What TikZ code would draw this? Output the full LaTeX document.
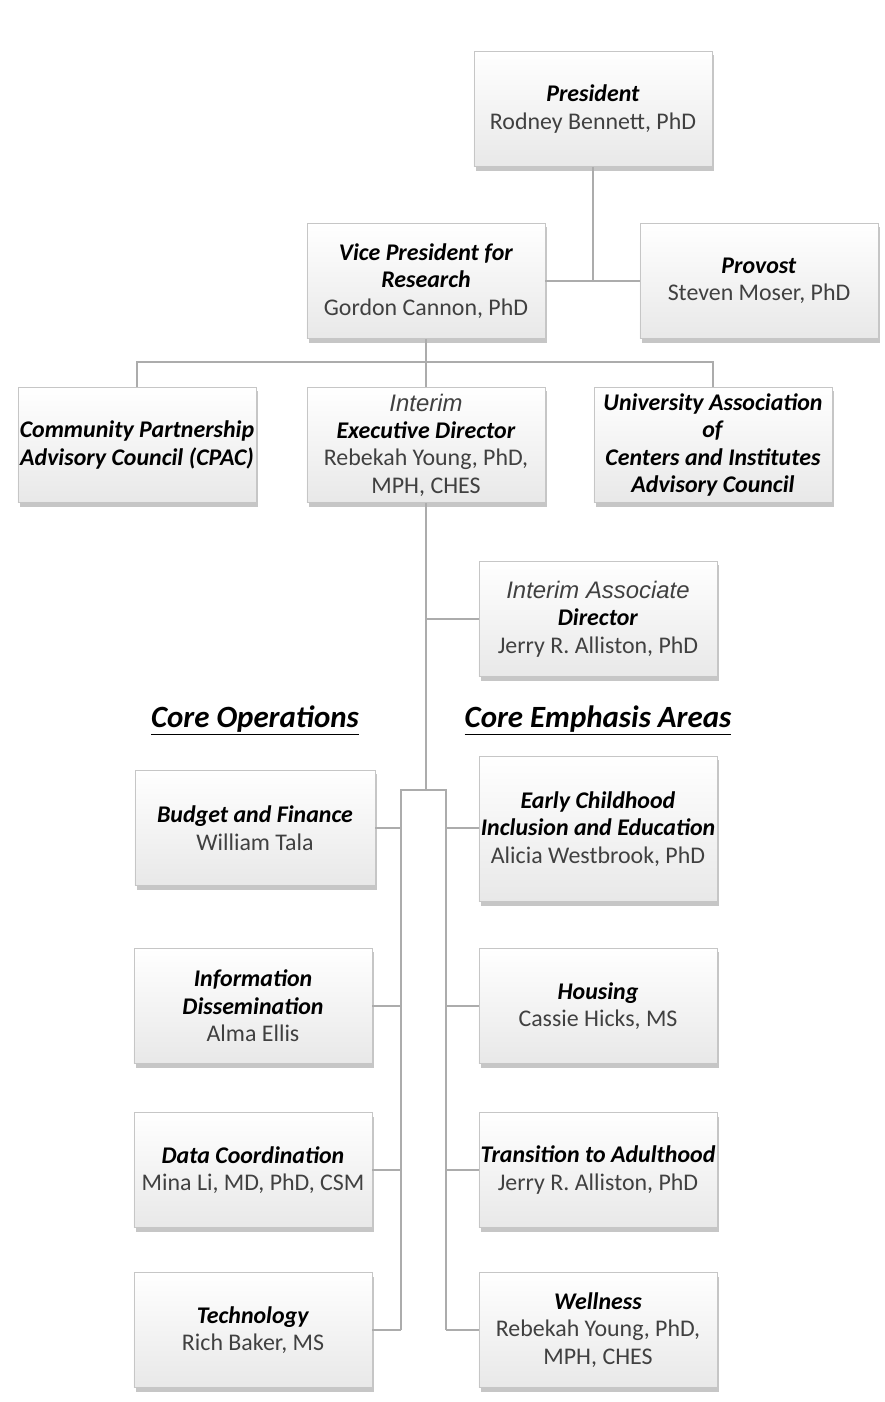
\documentclass[tikz,border=0pt]{standalone}
\usepackage{fontspec}
\setmainfont{Carlito}
\newfontfamily\arialfont{Liberation Sans}
\usetikzlibrary{shadows}

\newcommand{\post}[1]{\textbf{\textit{#1}}}
\newcommand{\interim}[1]{{\arialfont\itshape\color{black!75}#1}}
\newcommand{\who}[1]{{\color{black!75}#1}}

\tikzset{
  office/.style={draw=gray!45, thin, top color=white, bottom color=gray!18,
    drop shadow={opacity=0.45, shadow xshift=0.6mm, shadow yshift=-1mm},
    align=center, minimum width=5.95cm, minimum height=2.875cm,
    inner xsep=0pt, inner ysep=2pt,
    font=\fontsize{17}{19.5}\selectfont},
  link/.style={draw=gray!65, line width=1.2pt},
  heading/.style={font=\fontsize{22}{26}\selectfont\bfseries\itshape}
}

\begin{document}
\begin{tikzpicture}[x=0.025cm, y=-0.025cm]
        \useasboundingbox (0,0) rectangle (884,1402);

        % top of the chart
        \node[office] (pres) at (593,109) {\post{President}\\ \who{Rodney Bennett, PhD}};
        \node[office] (vp) at (426,281) {\post{Vice President for}\\ \post{Research}\\ \who{Gordon Cannon, PhD}};
        \node[office] (provost) at (759,281) {\post{Provost}\\ \who{Steven Moser, PhD}};

        \node[office] (cpac) at (137,445) {\post{Community Partnership}\\ \post{Advisory Council (CPAC)}};
        \node[office] (exec) at (426,445) {\interim{Interim}\\ \post{Executive Director}\\ \who{Rebekah Young, PhD,}\\ \who{MPH, CHES}};
        \node[office] (uaci) at (713,445) {\post{University Association}\\ \post{of}\\ \post{Centers and Institutes}\\ \post{Advisory Council}};

        \node[office] (assoc) at (598,619) {\interim{Interim Associate}\\ \post{Director}\\ \who{Jerry R. Alliston, PhD}};

        % headings
        \node[heading] (ops) at (255,720) {\underline{Core Operations}};
        \node[heading] (areas) at (598,720) {\underline{Core Emphasis Areas}};

        % core operations
        \node[office, minimum width=6cm] (budget) at (255,828) {\post{Budget and Finance}\\ \who{William Tala}};
        \node[office] (info) at (253,1006) {\post{Information}\\ \post{Dissemination}\\ \who{Alma Ellis}};
        \node[office] (data) at (253,1170) {\post{Data Coordination}\\ \who{Mina Li, MD, PhD, CSM}};
        \node[office] (tech) at (253,1330) {\post{Technology}\\ \who{Rich Baker, MS}};

        % core emphasis areas
        \node[office, minimum height=3.625cm] (early) at (598,829) {\post{Early Childhood}\\ \post{Inclusion and Education}\\ \who{Alicia Westbrook, PhD}};
        \node[office] (housing) at (598,1006) {\post{Housing}\\ \who{Cassie Hicks, MS}};
        \node[office] (trans) at (598,1170) {\post{Transition to Adulthood}\\ \who{Jerry R. Alliston, PhD}};
        \node[office] (well) at (598,1330) {\post{Wellness}\\ \who{Rebekah Young, PhD,}\\ \who{MPH, CHES}};

        % connectors
        \coordinate (split) at (426,362);
        \coordinate (fork) at (426,790);
        \coordinate (forkL) at (401,790);
        \coordinate (forkR) at (446,790);

        \draw[link] (pres.south) -- (pres.south |- vp.east);
        \draw[link] (vp.east) -- (provost.west);
        \draw[link] (vp.south) -- (split);
        \draw[link] (cpac.north) |- (split) -| (uaci.north);
        \draw[link] (split) -- (exec.north);
        \draw[link] (exec.south) -- (fork);
        \draw[link] (exec.south |- assoc.west) -- (assoc.west);
        \draw[link] (forkL |- tech.east) -- (forkL) -- (forkR) -- (forkR |- well.west);

        \foreach \n in {budget, info, data, tech}
            \draw[link] (\n.east) -- (forkL |- \n.east);
        \foreach \n/\m in {early/budget, housing/info, trans/data, well/tech}
            \draw[link] (forkR |- \m.east) -- (\n.west |- \m.east);
\end{tikzpicture}
\end{document}
